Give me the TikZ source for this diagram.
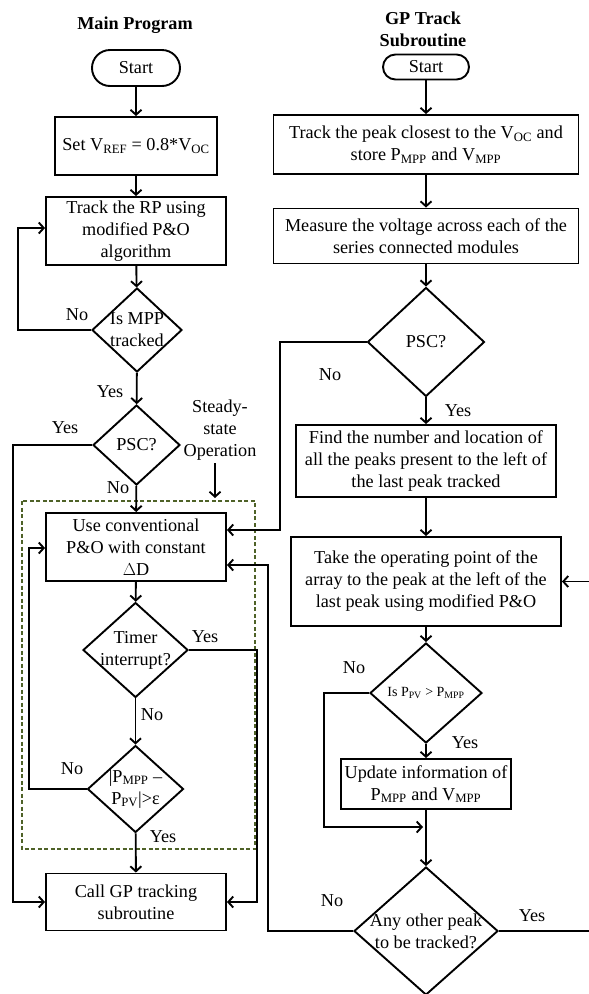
\documentclass[tikz,border=0pt]{standalone}
\usepackage{fontspec}
\setmainfont{Liberation Serif}
\usetikzlibrary{arrows.meta,shapes.geometric,calc}
\newcommand{\fs}{\fontsize{18.2}{22}\selectfont}
\newcommand{\fsm}{\fontsize{14}{16}\selectfont}
\newcommand{\sbs}[1]{\textsubscript{#1}}
\definecolor{olivedk}{RGB}{79,98,40}
\tikzset{
  ln/.style={line width=1.9pt},
  arr/.style={ln,-{Straight Barb[length=5pt,width=11pt]}},
  proc/.style={draw,ln,rectangle,inner sep=0pt,align=center,font=\fs,fill=white},
  term/.style={proc},
  pred/.style={proc,append after command={
     [ln] ([xshift=11pt]\tikzlastnode.north west) -- ([xshift=11pt]\tikzlastnode.south west)
          ([xshift=-11pt]\tikzlastnode.north east) -- ([xshift=-11pt]\tikzlastnode.south east)}},
  dia/.style={draw,ln,diamond,inner sep=0pt,fill=white},
  lab/.style={inner sep=0pt,align=center,font=\fs},
  ttl/.style={inner sep=0pt,align=center,font=\fs\bfseries},
}
\begin{document}
\begin{tikzpicture}[x=1pt,y=-1pt]
\clip (0,0) rectangle (589,994);
\fill[white] (0,0) rectangle (589,994);
% dashed steady-state region
\draw[olivedk,line width=1.6pt,dash pattern=on 4pt off 2.5pt] (22,501) rectangle (255,849);

% titles
\node[ttl] (t1) at (135,25) {Main Program};
\node[ttl] (t2) at (423,29) {GP Track\\Subroutine};

% left column
\node[term,minimum width=88pt,minimum height=36pt,rounded corners=18pt] (startL) at (136,68) {Start};
\node[proc,minimum width=162pt,minimum height=58pt] (setL) at (136,146) {Set V\sbs{REF} = 0.8*V\sbs{OC}};
\node[pred,minimum width=180pt,minimum height=68pt] (rp) at (136,231) {Track the RP using\\modified P\&O\\algorithm};
\node[dia,minimum width=90pt,minimum height=84pt,label={[lab]center:{Is MPP\\tracked}}] (mpp) at (137,330) {};
\node[dia,minimum width=87pt,minimum height=80pt,label={[lab]center:{PSC?}}] (pscL) at (136.5,445) {};
\node[pred,minimum width=180pt,minimum height=68pt] (use) at (136,547) {Use conventional\\P\&O with constant\\$\Delta$D};
\node[dia,minimum width=105pt,minimum height=95pt,label={[lab]center:{Timer\\interrupt?}}] (timer) at (135.5,650) {};
\node[dia,minimum width=96pt,minimum height=87pt,label={[lab]center:{|P\sbs{MPP} –\\P\sbs{PV}|>ε}}] (err) at (135.5,789) {};
\node[pred,minimum width=180pt,minimum height=57pt] (call) at (136,902) {Call GP tracking\\subroutine};

% right column
\node[term,minimum width=86pt,minimum height=25pt,rounded corners=12.5pt] (startR) at (426,67) {Start};
\node[proc,minimum width=305pt,minimum height=59pt] (peak) at (426,144.5) {Track the peak closest to the V\sbs{OC} and\\store P\sbs{MPP} and V\sbs{MPP}};
\node[proc,minimum width=305pt,minimum height=55pt] (meas) at (426,236) {Measure the voltage across each of the\\series connected modules};
\node[dia,minimum width=117pt,minimum height=109pt,label={[lab]center:{PSC?}}] (pscR) at (426,342) {};
\node[proc,minimum width=260pt,minimum height=72pt] (find) at (426,461) {Find the number and location of\\all the peaks present to the left of\\the last peak tracked};
\node[pred,minimum width=270pt,minimum height=89pt] (take) at (426,581.5) {Take the operating point of the\\array to the peak at the left of the\\last peak using modified P\&O};
\node[dia,minimum width=112pt,minimum height=100pt,label={[lab,font=\fsm]center:{Is P\sbs{PV} > P\sbs{MPP}}}] (ppv) at (426,693) {};
\node[proc,minimum width=170pt,minimum height=50pt] (upd) at (426,784) {Update information of\\P\sbs{MPP} and V\sbs{MPP}};
\node[dia,minimum width=144pt,minimum height=128pt,label={[lab]center:{Any other peak\\to be tracked?}}] (any) at (426,931) {};

% coordinates
\coordinate (c1) at (18,330);
\coordinate (c2) at (13,445);
\coordinate (c3) at (29,789);
\coordinate (c4) at (257,650);
\coordinate (c5) at (280,342);
\coordinate (c6) at (324,693);
\coordinate (c7) at (426,827);
\coordinate (c8) at (268,931);
\coordinate (c9) at (595,931);
\coordinate (ssA) at (215,463);
\coordinate (ssB) at (215,498);

% left connectors
\draw[arr] (startL) -- (setL);
\draw[arr] (setL) -- (rp);
\draw[arr] (rp) -- (mpp);
\draw[arr] (mpp.west) -- (c1) |- ([yshift=3pt]rp.west);
\draw[arr] (mpp) -- (pscL);
\draw[arr] (pscL) -- (use);
\draw[arr] (pscL.west) -- (c2) |- (call.west);
\draw[arr] (use) -- (timer);
\draw[arr] (timer) -- (err);
\draw[arr] (err.west) -- (c3) |- ([yshift=-1pt]use.west);
\draw[arr] (timer.east) -- (c4) |- (call.east);
\draw[arr] (err) -- (call);
\draw[arr] (ssA) -- (ssB);

% right connectors
\draw[arr] (startR) -- (peak);
\draw[arr] (peak) -- (meas);
\draw[arr] (meas) -- (pscR);
\draw[arr] (pscR.west) -- (c5) |- ([yshift=17pt]use.east);
\draw[arr] (pscR) -- (find);
\draw[arr] (find) -- (take);
\draw[arr] (take) -- (ppv);
\draw[arr] (ppv) -- (upd);
\draw[arr] (ppv.west) -- (c6) |- ([xshift=-3pt]c7);
\draw[arr] (upd) -- (any);
\draw[arr] (any.west) -- (c8) |- ([yshift=-18pt]use.east);
\draw[arr] (any.east) -- (c9) |- (take.east);

% edge labels
\node[lab] (l1) at (77,315) {No};
\node[lab] (l2) at (110,392) {Yes};
\node[lab] (l3) at (65,428) {Yes};
\node[lab] (l4) at (118,488) {No};
\node[lab] (ss) at (220,430) {Steady-\\state\\Operation};
\node[lab] (l5) at (205,637) {Yes};
\node[lab] (l6) at (152,715) {No};
\node[lab] (l7) at (72,769) {No};
\node[lab] (l8) at (163,837) {Yes};
\node[lab] (r1) at (330,375) {No};
\node[lab] (r2) at (458,411) {Yes};
\node[lab] (r3) at (354,668) {No};
\node[lab] (r4) at (465,743) {Yes};
\node[lab] (r5) at (332,901) {No};
\node[lab] (r6) at (532,916) {Yes};
\end{tikzpicture}
\end{document}
